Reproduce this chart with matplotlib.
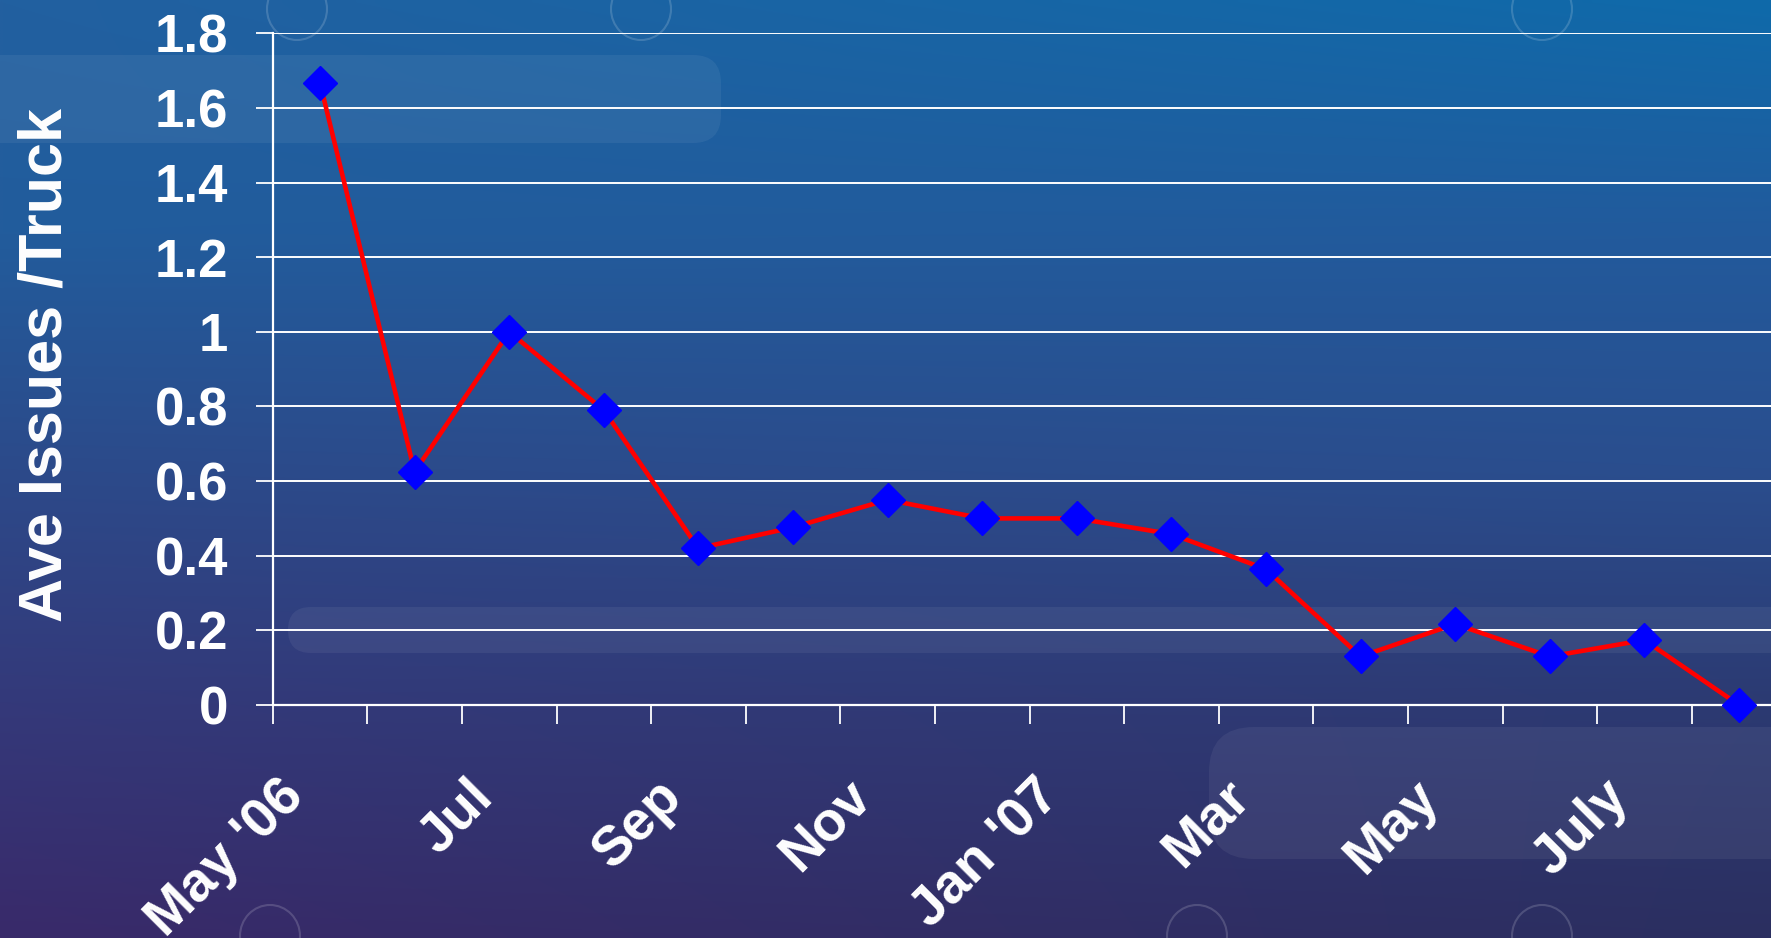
import numpy as np
import matplotlib
matplotlib.use("Agg")
import matplotlib.pyplot as plt
from matplotlib.patches import FancyBboxPatch, Ellipse
from matplotlib.colors import to_rgb
from matplotlib.transforms import ScaledTranslation

plt.rcParams["font.family"] = ["Liberation Sans", "DejaVu Sans"]
plt.rcParams["font.weight"] = "bold"

# monthly average issues per truck, May 2006 .. Aug 2007
months = ["May '06", "Jun", "Jul", "Aug", "Sep", "Oct", "Nov", "Dec",
          "Jan '07", "Feb", "Mar", "Apr", "May", "Jun", "July", "Aug"]
issues = [1.667, 0.625, 1.0, 0.79, 0.42, 0.476, 0.55, 0.5,
          0.5, 0.458, 0.364, 0.13, 0.217, 0.13, 0.174, 0.0]
shown_labels = ["May '06", "Jul", "Sep", "Nov", "Jan '07", "Mar", "May", "July"]
y_ticks = [0, 0.2, 0.4, 0.6, 0.8, 1, 1.2, 1.4, 1.6, 1.8]

W, H = 1771, 938
fig = plt.figure(figsize=(W / 100, H / 100), dpi=100)

# --- slide background ---
bg = fig.add_axes([0, 0, 1, 1], zorder=-5)
bg.set_xlim(0, W)
bg.set_ylim(H, 0)
bg.axis("off")

stops = [0.0, 0.25, 0.5, 0.75, 1.0]
left_cols = ["#2260a0", "#225c9c", "#2c4a8a", "#34397a", "#392a6a"]
right_cols = ["#0f6aaa", "#225a9c", "#2a4e8e", "#2c3a72", "#2b2f60"]
yy = np.linspace(0, 1, 200)
lc = np.array([np.interp(yy, stops, [to_rgb(c)[k] for c in left_cols]) for k in range(3)]).T
rc = np.array([np.interp(yy, stops, [to_rgb(c)[k] for c in right_cols]) for k in range(3)]).T
xx = np.linspace(0, 1, 300)
grad = lc[:, None, :] * (1 - xx[None, :, None]) + rc[:, None, :] * xx[None, :, None]
bg.imshow(grad, extent=[0, W, H, 0], aspect="auto", interpolation="bilinear")

for x0, y0, w, h, r in [(-60, 55, 781, 88, 28), (288, 607, 1560, 46, 23), (1209, 727, 640, 132, 45)]:
    bg.add_patch(FancyBboxPatch((x0, y0), w, h, boxstyle=f"round,pad=0,rounding_size={r}",
                                fc="white", ec="none", alpha=0.06))
for cx, cy in [(297, 9), (641, 9), (1542, 9), (270, 936), (1197, 936), (1542, 936)]:
    bg.add_patch(Ellipse((cx, cy), 60, 62, fill=False, ec="white", lw=1.5, alpha=0.16))

# --- chart ---
ax = fig.add_axes([272.7 / W, 1 - 705 / H, 1513.6 / W, 671.7 / H])
ax.set_facecolor("none")
x = np.arange(len(months))
ax.plot(x, issues, color="#ff0000", lw=3.3, marker="D", ms=17.5,
        mfc="#0000ff", mec="#0000ff", zorder=5, clip_on=False)

ax.set_xlim(-0.5, len(months) - 0.5)
ax.set_ylim(0, 1.8)
ax.set_yticks(y_ticks)
ax.set_yticklabels([f"{v:g}" for v in y_ticks])
ax.grid(axis="y", color="white", lw=1.4)
ax.set_axisbelow(True)

for s in ["top", "right"]:
    ax.spines[s].set_visible(False)
for s in ["left", "bottom"]:
    ax.spines[s].set_color("white")
    ax.spines[s].set_linewidth(1.6)

ax.tick_params(axis="y", colors="white", labelsize=38, length=12, width=1.3, pad=20)
ax.set_xticks(x[::2])
ax.set_xticklabels(shown_labels, rotation=45, ha="right", va="top")
ax.set_xticks(np.arange(len(months) + 1) - 0.5, minor=True)
ax.tick_params(axis="x", which="major", colors="white", labelsize=40, length=0, pad=47)
ax.tick_params(axis="x", which="minor", colors="white", length=13.5, width=1.3)
shift = ScaledTranslation(-0.06, 0, fig.dpi_scale_trans)
for lab in ax.get_xticklabels():
    lab.set_transform(lab.get_transform() + shift)

fig.text(46 / W, 1 - 365 / H, "Ave Issues /Truck", rotation=90, color="white",
         fontsize=44, fontweight="bold", ha="center", va="center")

fig.savefig("out.png", dpi=100)
